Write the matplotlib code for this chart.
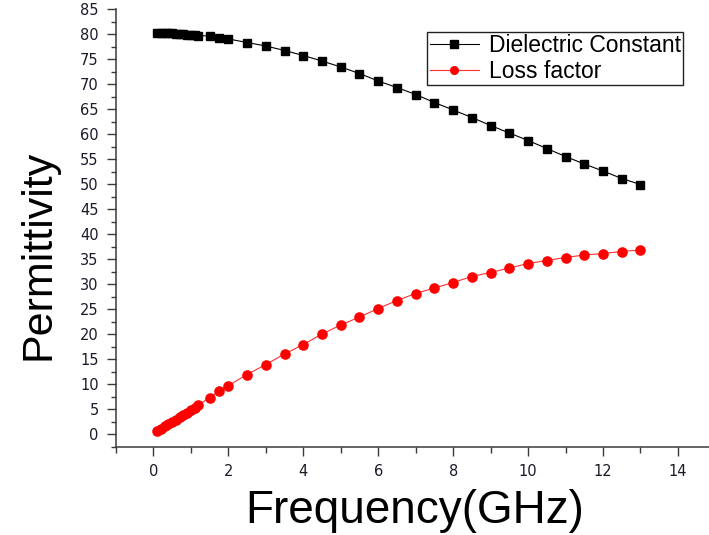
import matplotlib
matplotlib.use("Agg")
import matplotlib.pyplot as plt
from matplotlib.ticker import MultipleLocator

# Frequency points (GHz)
freq = [0.1, 0.2, 0.3, 0.4, 0.5, 0.6, 0.7, 0.8, 0.9, 1.0, 1.1, 1.2,
        1.5, 1.75, 2.0, 2.5, 3.0, 3.5, 4.0, 4.5, 5.0, 5.5, 6.0, 6.5,
        7.0, 7.5, 8.0, 8.5, 9.0, 9.5, 10.0, 10.5, 11.0, 11.5, 12.0,
        12.5, 13.0]

# Real part of permittivity
dielectric_constant = [80.3, 80.3, 80.3, 80.2, 80.2, 80.1, 80.1, 80.0, 79.9,
                       79.9, 79.8, 79.7, 79.6, 79.3, 79.0, 78.3, 77.6, 76.7,
                       75.7, 74.6, 73.4, 72.1, 70.6, 69.3, 67.9, 66.3, 64.8,
                       63.3, 61.7, 60.2, 58.7, 57.1, 55.5, 54.0, 52.6, 51.1,
                       49.9]

# Imaginary part of permittivity
loss_factor = [0.7, 1.1, 1.6, 2.0, 2.5, 2.9, 3.4, 3.9, 4.3, 4.8, 5.3, 5.8,
               7.3, 8.6, 9.7, 11.9, 13.9, 16.0, 17.9, 20.0, 21.8, 23.4, 25.1,
               26.7, 28.1, 29.2, 30.3, 31.5, 32.3, 33.2, 34.1, 34.7, 35.3,
               35.8, 36.1, 36.5, 36.8]

series_labels = ["Dielectric Constant", "Loss factor"]
x_label = "Frequency(GHz)"
y_label = "Permittivity"

W, H = 709, 535
fig = plt.figure(figsize=(W / 100, H / 100), dpi=100)
ax = fig.add_axes([116 / W, 1 - 446.5 / H, (W - 116) / W, 437.5 / H])

ax.plot(freq, dielectric_constant, color="black", lw=0.8, marker="s",
        ms=6.0, mfc="black", mec="black", label=series_labels[0])
ax.plot(freq, loss_factor, color="#ff3030", lw=0.8, marker="o",
        ms=6.6, mfc="#ff0000", mec="#ff0000", label=series_labels[1])

ax.set_xlim(-1, 14.83)
ax.set_ylim(-2.5, 85)

axis_color = "#3a3a3a"
for side in ("top", "right"):
    ax.spines[side].set_visible(False)
for side in ("left", "bottom"):
    ax.spines[side].set_color(axis_color)
    ax.spines[side].set_linewidth(1.1)

ax.xaxis.set_major_locator(MultipleLocator(2))
ax.xaxis.set_minor_locator(MultipleLocator(1))
ax.yaxis.set_major_locator(MultipleLocator(5))
ax.yaxis.set_minor_locator(MultipleLocator(2.5))
ax.set_xticks(range(0, 15, 2))

ax.tick_params(axis="both", which="major", direction="out", length=6.5,
               width=1.0, color=axis_color, pad=6, labelsize=10.5,
               labelcolor="#1a1a2a")
ax.tick_params(axis="x", which="minor", direction="out", length=4.3,
               width=1.0, color=axis_color)
ax.tick_params(axis="y", which="minor", direction="out", length=3.4,
               width=1.0, color=axis_color)
for lab in ax.get_xticklabels() + ax.get_yticklabels():
    lab.set_family("DejaVu Sans")

fig.text(415 / W, 1 - 511 / H, x_label, ha="center", va="center",
         fontsize=33, family="Liberation Sans")
fig.text(38.5 / W, 1 - 255 / H, y_label, ha="center", va="center",
         rotation=90, fontsize=31, family="Liberation Sans")

leg = ax.legend(loc="upper left", bbox_to_anchor=(427 / W, 1 - 31.7 / H),
                bbox_transform=fig.transFigure, frameon=True, fancybox=False,
                shadow=False, prop={"family": "Liberation Sans", "size": 16.5},
                handlelength=2.15, handletextpad=0.42, borderpad=0.12,
                labelspacing=0.1, borderaxespad=0)
leg.get_frame().set_edgecolor("#222222")
leg.get_frame().set_linewidth(1.0)
leg.get_frame().set_alpha(1)
for h in leg.legend_handles:
    h.set_markersize(5.5)

fig.savefig("out.png", dpi=100)
